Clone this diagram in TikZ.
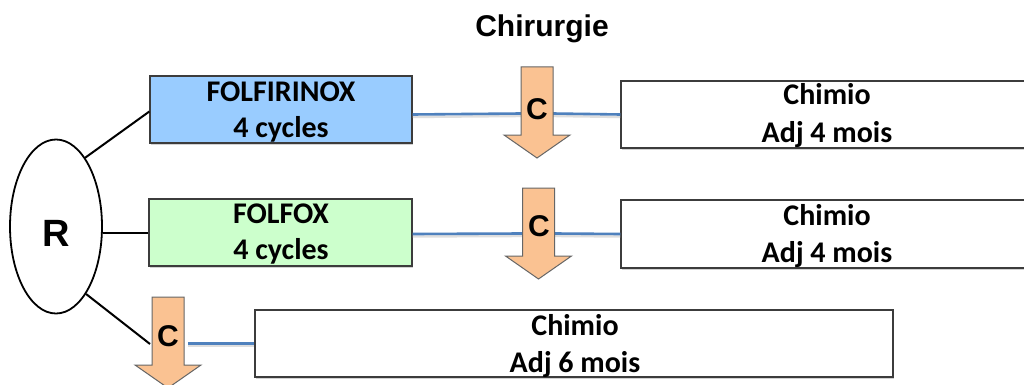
\documentclass[tikz,border=0pt]{standalone}
\usepackage{fontspec}
\setmainfont{Carlito}
\newfontfamily\arialf{Liberation Sans}
\usetikzlibrary{shapes.geometric,shadows,calc}
\definecolor{boxblue}{RGB}{153,204,255}
\definecolor{boxgreen}{RGB}{204,255,204}
\definecolor{peach}{RGB}{250,194,146}
\definecolor{linkblue}{RGB}{79,129,189}
\definecolor{edgegray}{RGB}{60,60,60}
\tikzset{
  boxstyle/.style={draw=edgegray, line width=1.3pt, inner sep=0pt,
    drop shadow={shadow xshift=1.2pt, shadow yshift=-1.5pt, opacity=0.35}},
  txt/.style={anchor=base, inner sep=0pt, font=\fontsize{30}{36}\selectfont\bfseries},
  ctxt/.style={anchor=base, inner sep=0pt, font=\arialf\fontsize{30}{36}\selectfont\bfseries},
  arrowbody/.style={fill=peach, draw=black!60, line width=1pt, line join=miter},
  link/.style={draw=linkblue, line width=2.6pt},
  linkshadow/.style={draw=black!25, line width=2.4pt, opacity=0.5},
  branch/.style={draw=black, line width=2pt}
}
\newcommand{\carrowat}[2]{%
  \path[arrowbody] (#1-16,#2) -- (#1+16,#2) -- (#1+16,#2+68) -- (#1+33,#2+68)
    -- (#1,#2+91) -- (#1-33,#2+68) -- (#1-16,#2+68) -- cycle;}
\begin{document}
\begin{tikzpicture}[x=1pt,y=-1pt]
\useasboundingbox (0,0) rectangle (1024,385);
\fill[white] (0,0) rectangle (1024,385);

% title
\node[anchor=base, inner sep=0pt, font=\arialf\fontsize{30}{36}\selectfont\bfseries] (title) at (542,37) {Chirurgie};

% randomisation ellipse
\node[draw, ellipse, line width=1.8pt, minimum width=92pt, minimum height=174pt, inner sep=0pt] (e) at (56,226.5) {};
\node[anchor=base, inner sep=0pt, font=\arialf\fontsize{38}{42}\selectfont\bfseries] (rl) at (56.5,246) {R};

% left boxes
\node[boxstyle, fill=boxblue, minimum width=262pt, minimum height=67pt] (f1) at (281,109.5) {};
\node[boxstyle, fill=boxgreen, minimum width=263pt, minimum height=67pt] (f2) at (280.5,232.5) {};
% right boxes
\node[boxstyle, fill=white, minimum width=419pt, minimum height=67pt] (r1) at (830.5,114.5) {};
\node[boxstyle, fill=white, minimum width=419pt, minimum height=68pt] (r2) at (830.5,234) {};
\node[boxstyle, fill=white, minimum width=638pt, minimum height=67pt] (r3) at (574,343.5) {};

% arrow reference coordinates (shaft edges)
\coordinate (c1w) at (521,113.5);
\coordinate (c1e) at (553,113.5);
\coordinate (c2w) at (522,233.5);
\coordinate (c2e) at (555,233.5);
\coordinate (c3w) at (150,344);
\coordinate (c3e) at (186,343.5);

% blue links with shadow
\draw[linkshadow] ($(f1.east |- r1.west)+(0,2.5)$) -- ($(c1w)+(0,2.5)$);
\draw[linkshadow] ($(c1e)+(0,2.5)$) -- ($(r1.west)+(0,2.5)$);
\draw[linkshadow] ($(f2.east |- r2.west)+(0,2.5)$) -- ($(c2w)+(0,2.5)$);
\draw[linkshadow] ($(c2e)+(0,2.5)$) -- ($(r2.west)+(0,2.5)$);
\draw[linkshadow] ($(c3e)+(2,2.5)$) -- ($(r3.west)+(0,2.5)$);
\draw[link] (f1.east |- r1.west) -- (c1w);
\draw[link] (c1e) -- (r1.west);
\draw[link] (f2.east |- r2.west) -- (c2w);
\draw[link] (c2e) -- (r2.west);
\draw[link] ($(c3e)+(2,0)$) -- (r3.west);

% branches from R
\draw[branch] (e.67) -- ($(f1.west)+(0,2)$);
\draw[branch] (f2.west -| e.east) -- (f2.west);
\draw[branch] (e.-66) -- (c3w);

% C arrows
\carrowat{537}{67}
\carrowat{538.5}{188}
\carrowat{168}{297}
\node[ctxt] (c1) at (537,119) {C};
\node[ctxt] (c2) at (539,236) {C};
\node[ctxt] (c3) at (168,346) {C};

% box texts
\node[txt] (f1a) at (281,102) {FOLFIRINOX};
\node[txt] (f1b) at (281,137) {4 cycles};
\node[txt] (f2a) at (281,223) {FOLFOX};
\node[txt] (f2b) at (281,259) {4 cycles};
\node[txt] (r1a) at (827,105) {Chimio};
\node[txt] (r1b) at (827,142) {Adj 4 mois};
\node[txt] (r2a) at (827,225) {Chimio};
\node[txt] (r2b) at (827,262) {Adj 4 mois};
\node[txt] (r3a) at (575,335) {Chimio};
\node[txt] (r3b) at (575,372) {Adj 6 mois};
\end{tikzpicture}
\end{document}
